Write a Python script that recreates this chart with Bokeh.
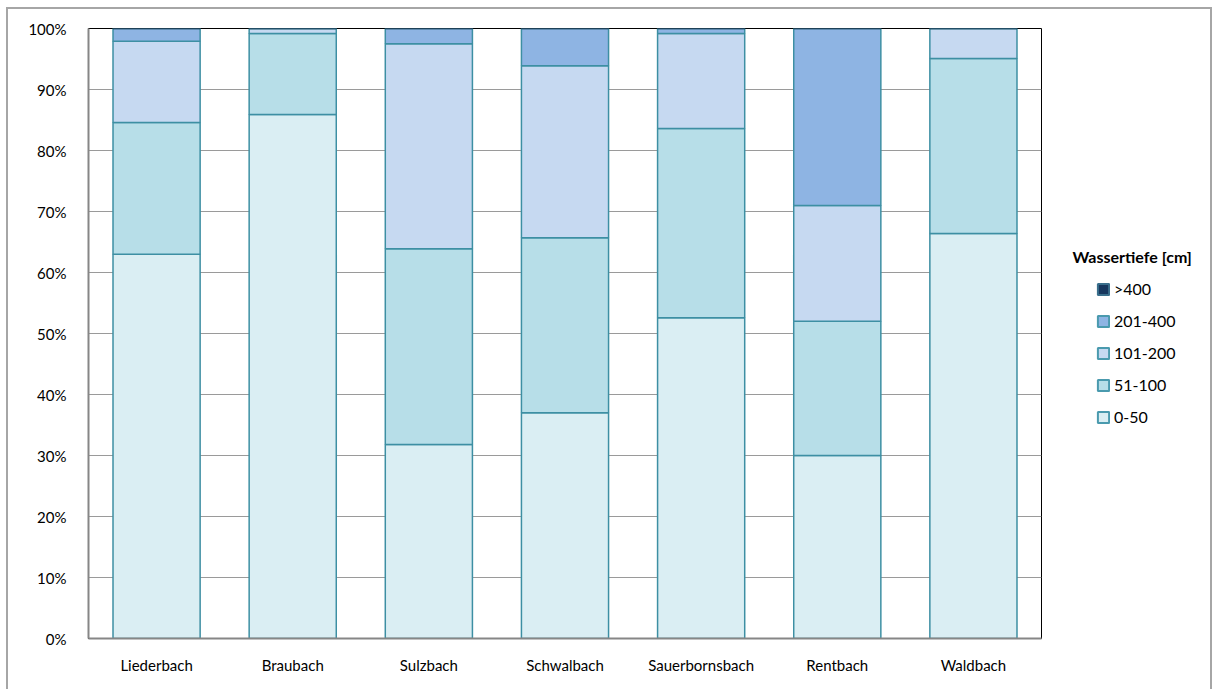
from bokeh.plotting import figure
from bokeh.models import (ColumnDataSource, Legend, LegendItem, FixedTicker,
                          Label)
from bokeh.layouts import row
from bokeh.embed import file_html
from bokeh.resources import INLINE

categories = ["Liederbach", "Braubach", "Sulzbach", "Schwalbach",
              "Sauerbornsbach", "Rentbach", "Waldbach"]
series = ["0-50", "51-100", "101-200", "201-400", ">400"]
v_0_50 = [63.0, 85.9, 31.8, 37.0, 52.6, 30.0, 66.4]
v_51_100 = [21.6, 13.3, 32.1, 28.7, 31.0, 22.0, 28.7]
v_101_200 = [13.3, 0.8, 33.6, 28.2, 15.6, 19.0, 4.9]
v_201_400 = [2.1, 0.0, 2.5, 6.1, 0.8, 29.0, 0.0]
v_400 = [0.0, 0.0, 0.0, 0.0, 0.0, 0.0, 0.0]
y_ticks = [0, 10, 20, 30, 40, 50, 60, 70, 80, 90, 100]
legend_title = "Wassertiefe [cm]"

fills = ["#DAEEF3", "#B7DEE8", "#C6D9F1", "#8EB4E3", "#17375E"]
edges = ["#3D8FA3", "#3D8FA3", "#3D8FA3", "#3D8FA3", "#0F2440"]
legend_edges = ["#4A9AAE", "#4A9AAE", "#4A9AAE", "#4A9AAE", "#3A6F8C"]

src = ColumnDataSource(dict(cat=categories, s0=v_0_50, s1=v_51_100,
                            s2=v_101_200, s3=v_201_400, s4=v_400))

FONT = "Lato"
H = 680
p = figure(x_range=categories, y_range=(0, 100), width=1035, height=H,
           output_backend="svg", toolbar_location=None,
           min_border_left=80, min_border_right=2, min_border_top=19,
           min_border_bottom=51)

p.vbar_stack(["s0", "s1", "s2", "s3", "s4"], x="cat", width=0.64,
             source=src, fill_color=fills, line_color=edges, line_width=1.5)

p.xgrid.grid_line_color = None
p.ygrid.grid_line_color = "#9a9a9a"
p.ygrid.grid_line_width = 1
p.yaxis.ticker = FixedTicker(ticks=y_ticks)
p.yaxis.major_label_overrides = {t: f"{t}%" for t in y_ticks}
for ax in (p.xaxis, p.yaxis):
    ax.axis_line_color = "#868686"
    ax.axis_line_width = 2
    ax.major_tick_line_color = None
    ax.minor_tick_line_color = None
    ax.major_label_text_font = FONT
    ax.major_label_text_font_size = "15px"
    ax.major_label_text_color = "#000000"
p.yaxis.major_label_standoff = 16
p.xaxis.major_label_standoff = 11
p.x_range.range_padding = 0
p.outline_line_color = "#000000"
p.outline_line_width = 1

# legend panel
W2 = 167
p2 = figure(width=W2, height=H, x_range=(0, W2), y_range=(0, H),
            output_backend="svg", toolbar_location=None, min_border=0,
            min_border_left=0, min_border_right=0, min_border_top=0,
            min_border_bottom=0)
p2.axis.visible = False
p2.grid.grid_line_color = None
p2.outline_line_color = None

swatches = []
for i in range(5):
    r = p2.vbar(x=[float("nan")], top=[float("nan")], width=1,
                fill_color=fills[i], line_color=legend_edges[i],
                line_width=2)
    swatches.append(r)

items = [LegendItem(label=series[i], renderers=[swatches[i]])
         for i in reversed(range(5))]
legend = Legend(items=items, location=(53, 212), label_text_font=FONT,
                label_text_font_size="16px", label_text_color="#000000",
                glyph_width=14, glyph_height=14,
                spacing=13, label_standoff=4, border_line_color=None,
                background_fill_alpha=0, padding=0, margin=0)
p2.add_layout(legend, "center")

p2.add_layout(Label(x=29, y=H - 254, text=legend_title, text_font=FONT,
                    text_font_style="bold", text_font_size="16px",
                    text_baseline="middle", text_color="#000000"))

layout = row(p, p2, margin=(7, 0, 0, 6),
             styles={"border": "2px solid #a6a6a6", "border-bottom": "none"})

open("out.html", "w").write(file_html(layout, INLINE))
